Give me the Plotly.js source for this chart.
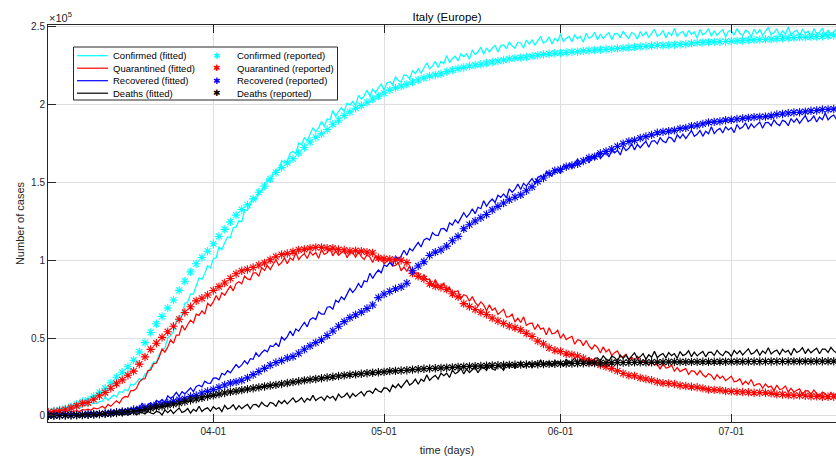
<!DOCTYPE html>
<html><head><meta charset="utf-8">
<script src="https://cdn.plot.ly/plotly-3.0.1.min.js"></script>
<style>html,body{margin:0;padding:0;overflow:hidden;background:#fff}#chart{width:846px;height:456px}</style>
</head><body><div id="chart"></div>
<script>
// ---- data (reported: daily from 2020-03-03; fitted: every 12 h from 2020-03-03, in thousands) ----
const reportedStart = '2020-03-03';
const reportedConfirmed = [2502,3089,3858,4636,5883,7375,9172,10149,12462,15113,
17660,21157,24747,27980,31506,35713,41035,47021,53578,59138,
63927,69176,74386,80589,86498,92472,97689,101739,105792,110574,
115242,119827,124632,128948,132547,135586,139422,143626,147577,152271,
156363,159516,162488,165155,168941,172434,175925,178972,181228,183957,
187327,189973,192994,195351,197675,199414,201505,203591,205463,207428,
209328,210717,211938,213013,214457,215858,217185,218268,219070,219814,
221216,222104,223096,223885,224760,225435,225886,226699,227364,228006,
228658,229327,229858,230158,230555,231139,231732,232248,232664,233019,
233197,233515,233836,234013,234531,234801,234998,235278,235561,235763,
236142,236305,236651,236989,237290,237500,237828,238159,238011,238275,
238499,238720,238833,239410,239706,239961,240136,240310,240436,240578,
240760,240961,241184,241419,241611,241819,241956,242149,242363,242639,
242827,243061,243230,243344,243506,243736,243967,244216,244434,244624,
244752];
const reportedQuarantined = [2263,2706,3296,3916,5061,6387,7985,8514,10590,12839,
14955,17750,20603,23073,26062,28710,33190,37860,42681,46638,
50418,54030,57521,62013,66414,70065,73880,75528,77635,80572,
83049,85388,88274,91246,93187,94067,95262,96877,98273,100269,
102253,103616,104291,105418,106607,106962,107771,108257,108237,107709,
107699,106848,106527,105847,106103,105813,105205,104657,101551,100943,
100704,100179,99980,98467,91528,89624,87961,84842,83324,82488,
81266,78457,76440,72070,70187,68351,66553,65129,62752,60960,
59322,57752,56594,55300,52942,50966,47986,46175,43691,42097,
41367,39893,39297,38429,36976,35118,34515,32668,31579,30311,
28890,27217,25980,25634,24393,23640,22836,21738,20997,20772,
20439,19478,19142,18655,18303,17638,16836,16681,16496,15864,
15724,15426,15268,15098,14806,14842,14816,14420,13797,13723,
13303,13179,13157,12919,12493,12473,12133,12225,12227,12135,
12051];
const reportedRecovered = [160,276,414,523,589,622,724,1004,1045,1258,
1439,1966,2335,2749,2941,4025,4440,5129,6072,7024,
7432,8326,9362,10361,10950,12384,13030,14620,15729,16847,
18278,19758,20996,21815,22837,24392,26491,28470,30455,32534,
34211,35435,37130,38092,40164,42727,44927,47055,48877,51600,
54543,57576,60498,63120,64928,66624,68941,71252,75945,78249,
79914,81654,82879,85231,93245,96276,99023,103031,105186,106587,
109039,112541,115288,120205,122810,125176,127326,129401,132282,134560,
136720,138840,140479,141981,144658,147101,150604,152844,155633,157507,
158355,160092,160938,161895,163781,165837,166584,168646,169939,171338,
173085,174865,176370,177010,178526,179455,180544,181907,182453,182893,
183426,184585,185015,186111,186725,187615,188584,188891,189196,189947,
190248,190717,191083,191467,191944,192108,192241,192815,193640,193978,
194579,194928,195106,195441,196016,196246,196806,196949,197162,197431,
197628];
const reportedDeaths = [79,107,148,197,233,366,463,631,827,1016,
1266,1441,1809,2158,2503,2978,3405,4032,4825,5476,
6077,6820,7503,8165,9134,10023,10779,11591,12428,13155,
13915,14681,15362,15887,16523,17127,17669,18279,18849,19468,
19899,20465,21067,21645,22170,22745,23227,23660,24114,24648,
25085,25549,25969,26384,26644,26977,27359,27682,27967,28236,
28710,28884,29079,29315,29684,29958,30201,30395,30560,30739,
30911,31106,31368,31610,31763,31908,32007,32169,32330,32486,
32616,32735,32785,32877,32955,33072,33142,33229,33340,33415,
33475,33530,33601,33689,33774,33846,33899,33964,34043,34114,
34167,34223,34301,34345,34371,34405,34448,34514,34561,34610,
34634,34657,34675,34644,34678,34708,34716,34738,34744,34767,
34788,34818,34833,34854,34861,34869,34899,34914,34926,34938,
34945,34954,34967,34984,34997,35017,35028,35042,35045,35058,
35073];

const fittedStart = '2020-03-03';
const fittedStepHours = 12;
const fittedConfirmedK = [2.2,1.9,3.1,2.6,2.5,3.6,3.6,3.2,4.6,4.4,
5.4,5.0,5.9,7.0,6.5,7.2,8.3,7.8,9.2,9.3,
12.1,10.0,11.9,13.4,12.2,15.5,15.1,17.1,16.0,20.4,
19.7,21.4,24.0,23.1,26.8,27.6,31.2,34.6,34.5,39.4,
42.5,43.3,50.2,51.5,54.1,61.0,63.8,64.4,72.3,73.0,
78.4,78.2,83.5,88.7,87.7,91.4,96.4,95.0,100.8,101.6,
108.5,106.7,111.2,114.9,114.4,120.9,121.4,125.4,124.6,132.3,
132.0,135.5,140.4,138.6,144.3,144.1,148.3,152.0,150.1,155.7,
158.1,157.5,163.8,162.9,163.3,168.9,169.9,168.5,175.3,174.3,
178.6,176.8,181.0,185.2,182.4,185.0,189.2,186.0,190.9,190.1,
196.2,192.4,195.7,198.0,195.7,201.0,199.6,202.1,199.3,205.9,
203.5,205.6,209.3,205.4,209.9,207.8,210.7,213.1,209.3,213.9,
214.7,212.8,217.7,215.5,214.6,219.0,218.8,216.3,222.0,219.9,
223.1,220.3,223.5,226.8,223.0,224.7,227.9,223.8,227.9,226.3,
231.6,227.0,229.5,231.1,228.1,232.7,230.7,232.6,229.2,235.2,
232.2,233.8,236.9,232.4,236.4,233.8,236.2,238.1,233.8,237.9,
238.3,235.9,240.3,237.6,236.2,240.1,239.4,236.4,241.5,238.9,
241.6,238.3,241.0,243.8,239.5,240.7,243.5,239.0,242.6,240.6,
245.5,240.5,242.6,243.8,240.4,244.7,242.3,243.9,240.1,245.8,
242.5,243.7,246.5,241.7,245.4,242.5,244.6,246.3,241.7,245.6,
245.7,243.0,247.2,244.2,242.6,246.3,245.3,242.1,247.0,244.2,
246.7,243.2,245.7,248.3,243.9,245.0,247.6,242.9,246.4,244.3,
249.0,243.9,245.9,247.0,243.5,247.7,245.2,246.7,242.8,248.3,
244.9,246.1,248.8,243.9,247.5,244.5,246.6,248.2,243.5,247.3,
247.4,244.7,248.8,245.8,244.2,247.8,246.8,243.5,248.4,245.6,
248.1,244.5,247.0,249.6,245.1,246.1,248.7,244.0,247.4,245.2,
249.9,244.7,246.7,247.8,244.2,248.3,245.8,247.2,243.3,248.8,
245.4,246.5,249.2,244.3,247.9,244.9,246.9,248.5,243.8,247.6,
247.6];
const fittedQuarantinedK = [2.7,1.7,1.9,2.7,1.9,2.7,2.2,3.5,2.6,3.0,
3.3,2.7,3.9,3.6,4.2,3.5,5.0,4.5,5.0,6.1,
4.8,7.3,6.1,8.0,9.6,8.0,11.1,12.4,12.1,16.2,
16.2,17.6,21.8,23.5,23.9,28.9,29.5,33.4,33.9,37.8,
42.9,40.9,44.2,48.8,46.6,51.9,51.8,58.1,55.1,58.7,
61.5,59.7,65.3,64.5,67.5,65.3,72.2,70.6,73.2,77.3,
74.2,79.0,77.5,80.6,83.5,80.3,85.0,86.2,84.8,89.8,
88.0,87.5,91.9,91.8,89.7,95.2,93.4,96.6,94.0,97.2,
100.3,96.7,98.5,101.5,97.7,101.5,100.0,104.9,100.5,102.8,
104.2,101.1,105.4,103.3,104.9,101.3,106.8,103.7,104.8,107.4,
102.8,106.1,103.1,104.8,106.2,101.6,104.9,104.7,101.9,105.5,
102.3,100.4,103.5,102.0,98.6,102.8,99.7,101.5,97.6,99.4,
101.2,96.3,96.7,98.3,93.2,95.7,92.8,96.4,90.7,91.7,
91.9,87.6,90.7,87.4,87.9,83.2,87.6,83.5,83.6,85.3,
79.9,82.4,78.7,79.7,80.4,75.1,77.8,77.0,73.6,76.6,
72.9,70.6,73.2,71.3,67.5,71.3,67.8,69.3,65.1,66.8,
68.4,63.4,63.7,65.3,60.2,62.8,60.0,63.7,58.1,59.3,
59.6,55.5,58.7,55.7,56.4,52.0,56.6,52.7,53.1,55.0,
49.8,52.5,49.0,50.2,51.1,46.0,48.9,48.3,45.1,48.4,
44.9,42.8,45.6,43.9,40.3,44.3,41.0,42.7,38.7,40.6,
41.7,37.9,38.1,39.5,35.6,37.6,35.5,38.4,34.1,35.1,
35.4,32.4,34.9,32.6,33.2,30.0,33.6,30.7,31.1,32.7,
28.7,31.0,28.4,29.5,30.3,26.6,29.0,28.6,26.3,29.0,
26.4,24.9,27.1,26.0,23.3,26.5,24.1,25.5,22.6,24.0,
25.5,21.9,22.3,23.8,20.1,22.2,20.3,23.3,19.2,20.3,
20.7,17.8,20.5,18.4,19.1,16.0,19.7,16.9,17.4,19.1,
15.3,17.7,15.2,16.4,17.3,13.7,16.2,16.0,13.8,16.6,
14.2,12.8,15.2,14.3,11.7,15.1,12.9,14.5,11.8,13.5,
15.2];
const fittedRecoveredK = [0.4,-0.8,1.1,-0.1,0.3,1.3,-0.3,0.9,0.0,0.7,
1.3,-0.3,1.1,1.1,0.3,1.7,0.8,0.4,1.7,1.5,
0.5,2.4,1.6,2.7,1.7,2.9,4.0,2.9,3.6,4.8,
2.8,5.6,4.6,8.2,5.2,7.1,8.3,6.5,9.9,8.9,
10.5,8.5,12.9,11.2,12.6,15.1,12.5,15.5,14.1,16.1,
17.9,15.6,18.8,19.6,18.6,22.2,21.0,20.9,24.2,24.3,
23.1,27.3,26.3,29.0,27.6,30.3,32.9,30.9,32.7,35.4,
33.3,36.7,36.3,40.5,38.1,40.5,42.3,41.1,45.0,44.5,
46.7,44.4,50.6,48.7,50.9,54.5,51.4,55.8,54.4,57.4,
60.1,57.2,61.8,63.0,61.9,66.8,65.4,65.3,69.8,70.1,
68.5,74.2,72.9,76.5,74.6,78.2,81.8,79.2,81.5,85.1,
82.3,86.7,86.1,91.6,88.3,91.4,93.7,91.9,96.9,96.0,
98.6,96.3,102.5,100.6,102.8,106.4,103.2,107.5,106.0,108.9,
111.5,108.5,113.0,114.1,112.9,117.7,116.1,115.8,120.2,120.4,
118.6,124.1,122.6,125.9,123.8,127.2,130.5,127.6,129.7,133.0,
129.9,134.0,133.1,138.2,134.6,137.4,139.3,137.1,141.7,140.4,
142.6,140.0,145.9,143.7,145.6,148.9,145.4,149.4,147.6,150.2,
152.5,149.1,153.3,154.1,152.5,156.9,154.9,154.2,158.2,157.9,
155.7,160.8,158.9,161.8,159.2,162.1,165.0,161.6,163.2,166.0,
162.5,166.1,164.7,169.4,165.3,167.6,169.1,166.4,170.6,168.9,
170.6,167.6,173.1,170.5,171.9,174.8,170.9,174.5,172.3,174.5,
176.4,172.6,176.4,176.8,174.8,178.8,176.5,175.5,179.1,178.5,
175.9,180.6,178.4,181.0,178.1,180.7,183.3,179.6,180.9,183.4,
179.6,182.9,181.3,185.7,181.4,183.5,184.7,181.8,185.7,183.7,
185.2,182.0,187.2,184.4,185.6,188.3,184.2,187.6,185.2,187.1,
188.8,184.8,188.4,188.6,186.4,190.2,187.7,186.5,189.9,189.1,
186.4,191.0,188.6,191.0,188.0,190.5,192.9,189.1,190.3,192.7,
188.8,192.0,190.3,194.6,190.2,192.2,193.3,190.3,194.2,192.2,
193.6];
const fittedDeathsK = [-0.8,1.1,-0.1,1.0,-0.4,0.6,1.6,-0.1,0.4,1.3,
-0.5,0.9,0.1,1.9,-0.1,0.7,1.2,-0.2,1.4,0.5,
1.1,-0.4,1.8,0.5,1.0,2.1,0.3,1.7,0.6,1.4,
2.2,0.5,2.0,2.1,1.2,2.9,1.8,1.3,2.8,2.4,
0.5,3.8,2.0,3.8,1.5,3.3,5.0,2.1,3.0,4.7,
1.7,4.2,2.9,6.1,2.8,4.3,5.1,2.9,5.8,4.2,
5.3,2.7,6.6,4.4,5.2,7.1,4.0,6.5,4.6,6.1,
7.3,4.4,7.1,7.3,5.7,8.7,6.8,6.0,8.6,8.0,
6.1,9.6,7.9,9.8,7.7,9.6,11.5,8.8,9.8,11.6,
8.7,11.2,9.9,13.1,9.8,11.3,12.1,9.9,12.8,11.3,
12.5,10.0,13.9,11.7,12.6,14.6,11.6,14.3,12.5,14.1,
15.5,12.8,15.6,16.0,14.5,17.6,15.9,15.2,18.0,17.6,
15.6,19.8,18.0,20.4,18.1,20.5,22.9,19.8,21.1,23.5,
20.3,23.5,22.2,26.3,22.7,24.7,26.0,23.6,27.3,25.8,
27.4,24.6,29.3,27.0,28.1,30.5,26.9,30.0,27.8,29.6,
31.1,27.7,30.8,31.0,29.1,32.6,30.4,29.3,32.2,31.5,
29.2,33.1,31.0,33.1,30.5,32.6,34.7,31.3,32.3,34.4,
30.9,33.8,32.2,36.0,32.1,33.8,34.8,32.1,35.5,33.7,
35.0,32.0,36.5,34.0,35.0,37.3,33.6,36.6,34.3,36.0,
37.4,34.0,37.0,37.2,35.2,38.6,36.4,35.3,38.2,37.5,
35.2,39.0,36.9,39.0,36.3,38.3,40.4,37.0,37.9,40.0,
36.4,39.2,37.6,41.4,37.4,39.0,40.0,37.3,40.6,38.7,
40.0,36.9,41.3,38.7,39.6,41.8,38.0,40.9,38.5,40.1,
41.4,37.9,40.8,40.9,38.8,42.1,39.8,38.6,41.4,40.6,
38.2,42.0,39.8,41.8,39.1,41.1,43.1,39.6,40.5,42.5,
38.9,41.7,40.0,43.7,39.7,41.3,42.2,39.4,42.7,40.8,
42.0,38.9,43.3,40.7,41.6,43.8,40.0,42.9,40.5,42.1,
43.4,39.9,42.8,42.8,40.7,44.0,41.7,40.4,43.2,42.4,
40.0];

const seriesNames = ['Confirmed', 'Quarantined', 'Recovered', 'Deaths'];
const seriesColors = ['#00ffff', '#ff0000', '#0000ff', '#000000'];
const xTickDates = ['2020-04-01', '2020-05-01', '2020-06-01', '2020-07-01'];
const xTickLabels = ['04-01', '05-01', '06-01', '07-01'];
const yTickValues = [0, 50000, 100000, 150000, 200000, 250000];
const yTickLabels = ['0', '0.5', '1', '1.5', '2', '2.5'];

// ---- helpers ----
function dateSeq(start, n, stepHours) {
  const t0 = Date.parse(start + 'T00:00:00Z');
  const out = [];
  for (let i = 0; i < n; i++) {
    out.push(new Date(t0 + i * stepHours * 3600000).toISOString().slice(0, 16).replace('T', ' '));
  }
  return out;
}
const fittedSets = [fittedConfirmedK, fittedQuarantinedK, fittedRecoveredK, fittedDeathsK];
const reportedSets = [reportedConfirmed, reportedQuarantined, reportedRecovered, reportedDeaths];
const fittedX = dateSeq(fittedStart, fittedConfirmedK.length, fittedStepHours);
const reportedX = dateSeq(reportedStart, reportedConfirmed.length, 24);

const traces = [];
fittedSets.forEach((arr, i) => {
  traces.push({
    type: 'scatter', mode: 'lines', name: seriesNames[i] + ' (fitted)',
    x: fittedX, y: arr.map(v => v * 1000),
    line: {color: seriesColors[i], width: 1.25}, showlegend: false, hoverinfo: 'skip'
  });
});
reportedSets.forEach((arr, i) => {
  traces.push({
    type: 'scatter', mode: 'markers', name: seriesNames[i] + ' (reported)',
    x: reportedX, y: arr,
    marker: {symbol: 'asterisk-open', size: 7, color: seriesColors[i], line: {color: seriesColors[i], width: 1.1}},
    showlegend: false, hoverinfo: 'skip'
  });
});

// ---- layout geometry (pixels) ----
const W = 846, H = 456;
const M = {l: 48, r: 0, t: 25, b: 34};
const plotW = W - M.l - M.r, plotH = H - M.t - M.b;
const px = x => (x - M.l) / plotW;
const py = y => (M.t + plotH - y) / plotH;

// legend (drawn manually to match the compact MATLAB legend)
const legendRows = [55.7, 68.2, 80.7, 93.2];
const shapes = [{
  type: 'rect', xref: 'paper', yref: 'paper', x0: px(73.5), x1: px(337.5), y0: py(100), y1: py(47),
  line: {color: '#262626', width: 1}, fillcolor: '#ffffff', layer: 'above'
}];
const annotations = [{
  xref: 'paper', yref: 'paper', x: px(47), y: py(17), xanchor: 'left', yanchor: 'middle',
  text: '×10<sup>5</sup>', showarrow: false, font: {size: 11, color: '#262626'}
}];
seriesNames.forEach((nm, i) => {
  const yy = py(legendRows[i]);
  shapes.push({type: 'line', xref: 'paper', yref: 'paper', x0: px(77), x1: px(108), y0: yy, y1: yy,
    line: {color: seriesColors[i], width: 1.2}, layer: 'above'});
  annotations.push({xref: 'paper', yref: 'paper', x: px(110.5), y: yy, xanchor: 'left', yanchor: 'middle',
    text: nm + ' (fitted)', showarrow: false, font: {size: 9.5, color: '#000'}});
  annotations.push({xref: 'paper', yref: 'paper', x: px(216.7), y: yy, xanchor: 'center', yanchor: 'middle',
    text: '✱', showarrow: false, font: {family: 'DejaVu Sans', size: 9, color: seriesColors[i]}});
  annotations.push({xref: 'paper', yref: 'paper', x: px(235.2), y: yy, xanchor: 'left', yanchor: 'middle',
    text: nm + ' (reported)', showarrow: false, font: {size: 9.5, color: '#000'}});
});

const layout = {
  width: W, height: H, margin: M,
  paper_bgcolor: '#ffffff', plot_bgcolor: '#ffffff',
  font: {family: 'Liberation Sans, Arial, Helvetica, sans-serif', size: 10, color: '#262626'},
  showlegend: false,
  title: {text: 'Italy (Europe)', font: {size: 11.5, color: '#000'}, x: 0.5, xref: 'paper', xanchor: 'center',
    y: 1 - 17.3 / H, yref: 'container', yanchor: 'middle'},
  xaxis: {
    type: 'date', range: ['2020-03-02 23:03', '2020-07-21 03:36'],
    tickmode: 'array', tickvals: xTickDates, ticktext: xTickLabels,
    ticks: 'inside', ticklen: 8, tickwidth: 1, tickcolor: '#262626',
    showline: true, linecolor: '#262626', linewidth: 1, mirror: 'ticks',
    showgrid: true, gridcolor: '#dfdfdf', gridwidth: 1, zeroline: false,
    tickfont: {size: 10, color: '#262626'}, automargin: false,
    title: {text: 'time (days)', font: {size: 11, color: '#262626'}, standoff: 11}
  },
  yaxis: {
    range: [-3985, 251157],
    tickmode: 'array', tickvals: yTickValues, ticktext: yTickLabels,
    ticks: 'inside', ticklen: 8, tickwidth: 1, tickcolor: '#262626',
    showline: true, linecolor: '#262626', linewidth: 1, mirror: 'ticks',
    showgrid: true, gridcolor: '#dfdfdf', gridwidth: 1, zeroline: false,
    tickfont: {size: 10, color: '#262626'}, automargin: false,
    title: {text: 'Number of cases', font: {size: 11, color: '#262626'}, standoff: 4}
  },
  shapes: shapes,
  annotations: annotations
};

Plotly.newPlot('chart', traces, layout, {displayModeBar: false, staticPlot: true});
</script>
</body></html>
